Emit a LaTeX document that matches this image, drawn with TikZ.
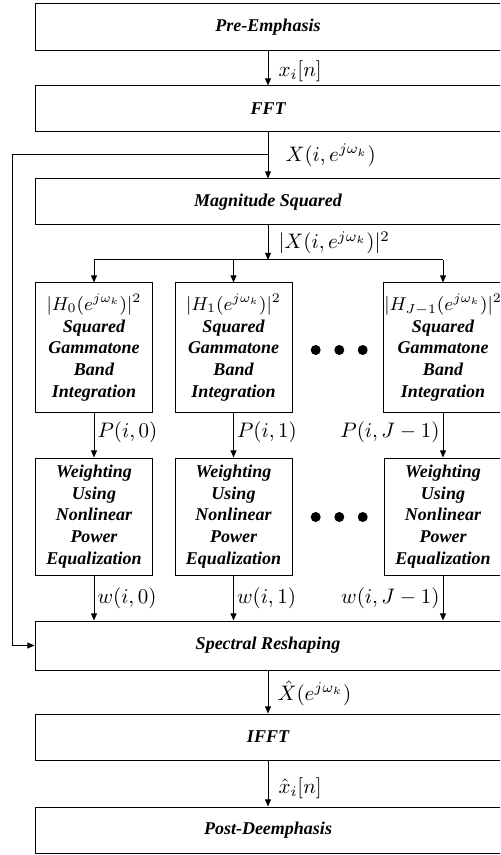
\RequirePackage{fix-cm}
\documentclass[tikz,border=0pt]{standalone}
\usepackage[no-math]{fontspec}
\usepackage{amsmath}
\usetikzlibrary{arrows.meta}
\newfontfamily\blockfont{Liberation Serif}
\newcommand{\unitsize}{0.5pt}
\newcommand{\bandmath}[1]{{\mdseries\upshape\fontsize{9.3}{10.8}\selectfont $#1$}}

\begin{document}
\begin{tikzpicture}
\clip (0,0) rectangle (500*\unitsize,-855*\unitsize);
\tikzstyle{block}=[draw, line width=0.5pt, align=center, inner sep=0.5pt,
			font=\blockfont\fontsize{9}{10.8}\selectfont\bfseries\itshape,
			minimum width=466*\unitsize, minimum height=46*\unitsize]
\tikzstyle{band}=[block, minimum width=117*\unitsize]
\tikzstyle{lbl}=[font=\fontsize{10.5}{12.6}\selectfont, inner sep=1.5pt]
\tikzstyle{flow}=[line width=0.5pt, -{Triangle[length=3.6pt,width=3pt]}]
\tikzstyle{bigdot}=[circle, fill=black, minimum size=10*\unitsize, inner sep=0pt]


\node[block, minimum height=47*\unitsize] (pre) at (268*\unitsize,-27.5*\unitsize) {Pre-Emphasis};

\node[block] (fft) at (268*\unitsize,-109*\unitsize) {FFT};

\node[block] (mag) at (268*\unitsize,-202*\unitsize) {Magnitude Squared};

\node[band, minimum height=129*\unitsize] (band0) at (94*\unitsize,-347.5*\unitsize)
    {\bandmath{|H_0(e^{j\omega_k})|^2}\\Squared\\Gammatone\\Band\\Integration};

\node[band, minimum height=129*\unitsize] (band1) at (233.5*\unitsize,-347.5*\unitsize)
    {\bandmath{|H_1(e^{j\omega_k})|^2}\\Squared\\Gammatone\\Band\\Integration};

\node[band, minimum height=129*\unitsize] (band2) at (443*\unitsize,-347.5*\unitsize)
    {\bandmath{|H_{J-1}(e^{j\omega_k})|^2}\\Squared\\Gammatone\\Band\\Integration};

\node[band, minimum height=117*\unitsize] (wgt0) at (94*\unitsize,-516.5*\unitsize)
    {Weighting\\Using\\Nonlinear\\Power\\Equalization};

\node[band, minimum height=117*\unitsize] (wgt1) at (233.5*\unitsize,-516.5*\unitsize)
    {Weighting\\Using\\Nonlinear\\Power\\Equalization};

\node[band, minimum height=117*\unitsize] (wgt2) at (443*\unitsize,-516.5*\unitsize)
    {Weighting\\Using\\Nonlinear\\Power\\Equalization};

\node[block, minimum height=49*\unitsize] (spec) at (268*\unitsize,-645.5*\unitsize) {Spectral Reshaping};

\node[block] (ifft) at (268*\unitsize,-737*\unitsize) {IFFT};

\node[block] (post) at (268*\unitsize,-830*\unitsize) {Post-Deemphasis};

% dots between the columns
\foreach \col/\xx in {a/315.7, b/339.3, c/362.7} {
    \node[bigdot] (dotband\col) at (\xx*\unitsize,-350*\unitsize) {};
    \node[bigdot] (dotwgt\col) at (\xx*\unitsize,-517*\unitsize) {};
}

\coordinate (tap) at (268*\unitsize,-155*\unitsize);
\coordinate (fbcorner) at (12*\unitsize,-155*\unitsize);
\coordinate (split) at (268*\unitsize,-260*\unitsize);


\draw[flow] (pre) -- node[lbl, right, xshift=3.5pt, yshift=-1.5pt] {$x_i[n]$} (fft);

\draw[flow] (fft) -- node[lbl, right, xshift=7pt] {$X(i,e^{j\omega_k})$} (mag);

\draw[flow] (tap) -- (fbcorner) |- (spec.west);

\draw[flow] (mag) -- node[lbl, right, xshift=3.5pt] {$|X(i,e^{j\omega_k})|^2$} (split);

\draw[line width=0.5pt] (band0.north |- split) -- (band2.north |- split);

\draw[flow] (band0.north |- split) -- (band0.north);

\draw[flow] (band1.north |- split) -- (band1.north);

\draw[flow] (band2.north |- split) -- (band2.north);

\draw[flow] (band0) -- node[lbl, right, yshift=1.5pt] {$P(i,0)$} (wgt0);

\draw[flow] (band1) -- node[lbl, right, yshift=1.5pt] {$P(i,1)$} (wgt1);

\draw[flow] (band2) -- node[lbl, left, yshift=1.5pt] {$P(i,J-1)$} (wgt2);

\draw[flow] (wgt0) -- node[lbl, right] {$w(i,0)$} (wgt0.south |- spec.north);

\draw[flow] (wgt1) -- node[lbl, right] {$w(i,1)$} (wgt1.south |- spec.north);

\draw[flow] (wgt2) -- node[lbl, left] {$w(i,J-1)$} (wgt2.south |- spec.north);

\draw[flow] (spec) -- node[lbl, right, xshift=3pt, yshift=-0.5pt] {$\hat{X}(e^{j\omega_k})$} (ifft);

\draw[flow] (ifft) -- node[lbl, right, xshift=3.5pt, yshift=-2.5pt] {$\hat{x}_i[n]$} (post);

\end{tikzpicture}
\end{document}
